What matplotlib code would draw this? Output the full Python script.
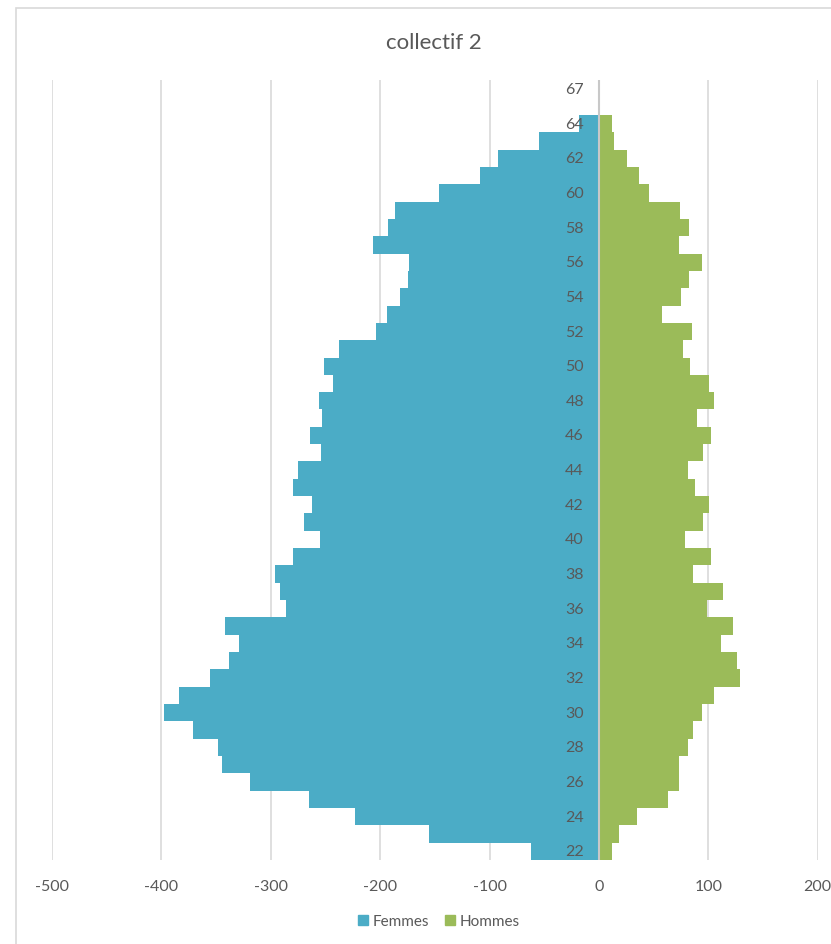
import matplotlib.pyplot as plt
from matplotlib.patches import Patch, Rectangle
import matplotlib.transforms as mtransforms

plt.rcParams['font.family'] = ['Lato', 'DejaVu Sans']

ages = list(range(22, 66)) + [67]

femmes = [-62, -155, -223, -265, -319, -345, -348, -371, -398, -384,
          -356, -338, -329, -342, -286, -292, -296, -280, -255, -270,
          -262, -280, -275, -254, -264, -253, -256, -243, -251, -238,
          -204, -194, -182, -175, -174, -207, -193, -186, -146, -109,
          -92, -55, -18, 0, 0]

hommes = [12, 18, 35, 63, 73, 73, 81, 86, 94, 105,
          129, 126, 112, 123, 99, 113, 86, 102, 79, 95,
          101, 88, 81, 95, 102, 90, 105, 101, 83, 77,
          85, 58, 75, 82, 94, 73, 82, 74, 46, 37,
          26, 14, 12, 1, 0]

xticks = [-500, -400, -300, -200, -100, 0, 100, 200]

c_f = '#4BACC6'
c_h = '#9BBB59'
grey = '#595959'

fig = plt.figure(figsize=(8.31, 9.45), dpi=100)
ax = fig.add_axes([0.0626, 0.0889, 0.9214, 0.8251])

pos = list(range(len(ages)))
ax.barh(pos, femmes, height=1.0, color=c_f, zorder=2)
ax.barh(pos, hommes, height=1.0, color=c_h, zorder=2)

ax.set_xlim(-500, 200)
ax.set_ylim(-0.5, len(ages) - 0.5)
ax.set_xticks(xticks)
ax.set_xticklabels([str(v) for v in xticks], color=grey, fontsize=11.5)
ax.tick_params(axis='x', length=0, pad=14)
ax.set_yticks([])
for s in ax.spines.values():
    s.set_visible(False)
ax.grid(axis='x', color='#d9d9d9', linewidth=1.2, zorder=0)
ax.axvline(0, color='#c8c8c8', linewidth=1.5, zorder=3)

# age labels beside the zero line
tr = mtransforms.offset_copy(ax.transData, fig=fig, x=-15, y=0, units='dots')
for i, a in enumerate(ages):
    if i % 2 == 0:
        ax.text(0, i, str(a), transform=tr, ha='right', va='center',
                color=grey, fontsize=11.5, zorder=4)

fig.text(0.522, 0.955, 'collectif 2', ha='center', va='center',
         color=grey, fontsize=16)

handles = [Patch(color=c_f, label='Femmes'), Patch(color=c_h, label='Hommes')]
fig.legend(handles=handles, loc='center', bbox_to_anchor=(0.528, 0.024),
           ncol=2, frameon=False, fontsize=11, handlelength=0.7,
           handleheight=0.7, handletextpad=0.3, columnspacing=1.0,
           labelcolor=grey)

fig.patches.append(Rectangle((0.019, -0.01), 1.0, 1.001, transform=fig.transFigure,
                             fill=False, edgecolor='#d9d9d9', linewidth=1.2))

fig.savefig('out.png', dpi=100)
